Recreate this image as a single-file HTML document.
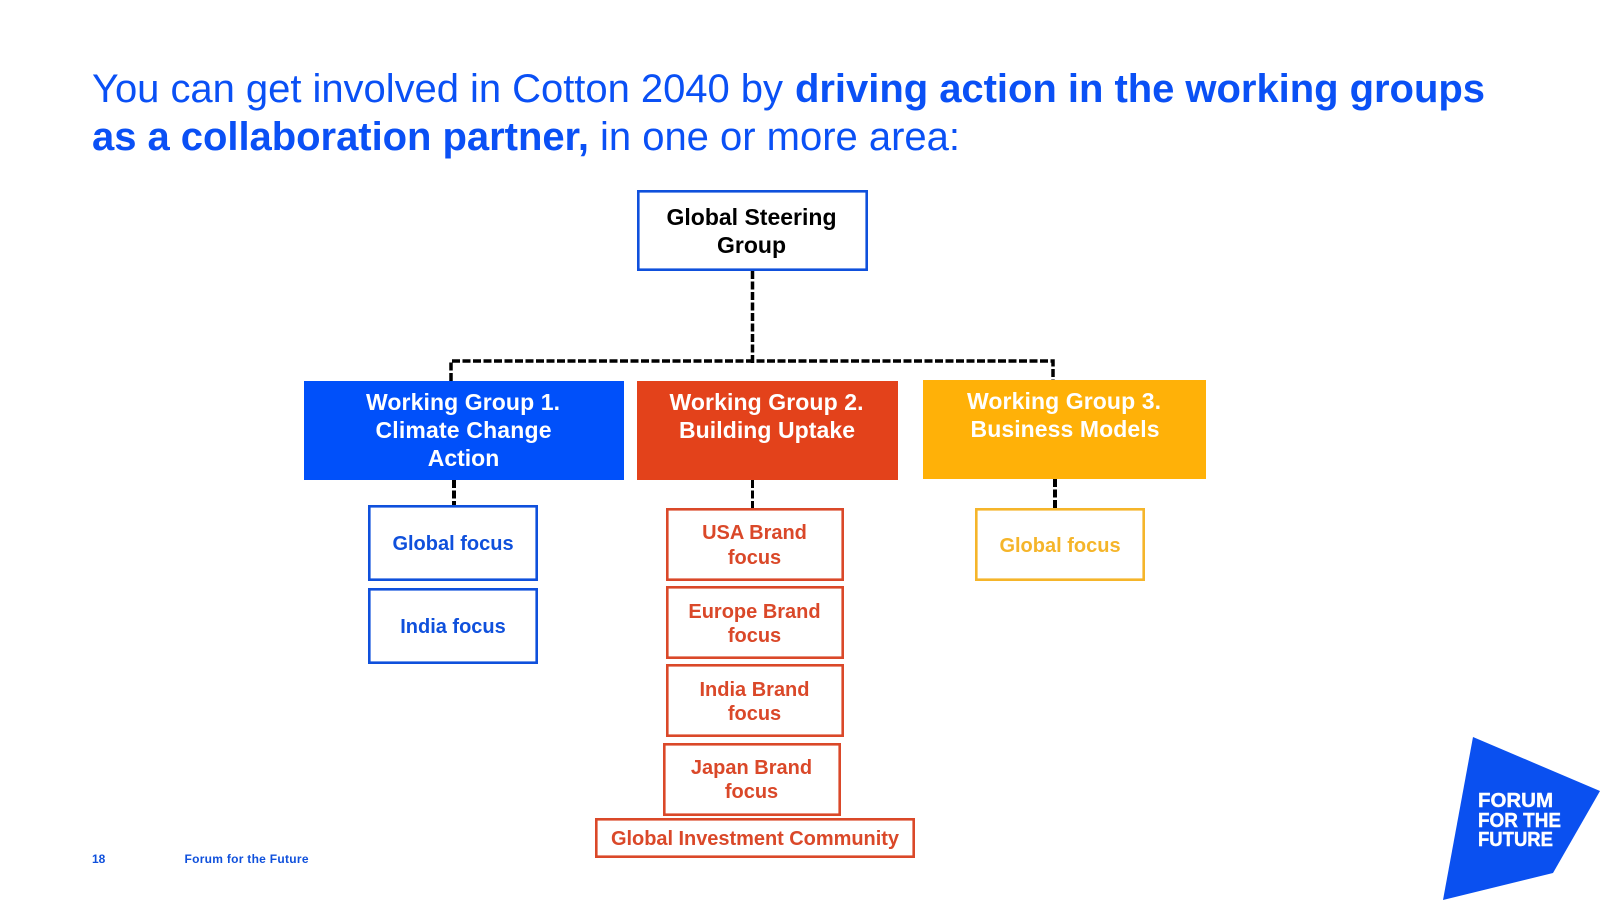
<!DOCTYPE html>
<html lang="en">
<head>
<meta charset="utf-8">
<title>Cotton 2040 working groups</title>
<style>
html,body{margin:0;padding:0;background:#fff;width:1600px;height:900px;overflow:hidden}
svg{display:block}
text{font-family:"Liberation Sans",Arial,sans-serif}
.b{font-weight:700}
.t{font-size:40px;fill:#0a50f5}
.m{text-anchor:middle;font-weight:700}
.l{font-size:23px}
.s{font-size:20px}
</style>
</head>
<body>
<svg width="1600" height="900" viewBox="0 0 1600 900" xmlns="http://www.w3.org/2000/svg">
<rect width="1600" height="900" fill="#fff"/>

<!-- Title -->
<text class="t" x="92" y="102" textLength="691" lengthAdjust="spacing">You can get involved in Cotton 2040 by</text>
<text class="t b" x="795" y="102" textLength="690" lengthAdjust="spacing">driving action in the working groups</text>
<text class="t b" x="92" y="150" textLength="497" lengthAdjust="spacing">as a collaboration partner,</text>
<text class="t" x="600" y="150" textLength="360" lengthAdjust="spacing">in one or more area:</text>

<!-- Connectors -->
<g fill="none" stroke="#000" stroke-width="3.5" stroke-dasharray="8 2.5">
<path d="M752.5 271V364"/>
<path d="M451 381V361H1053V381" stroke-linejoin="miter"/>
<path d="M454 480V505" stroke-width="4"/>
<path d="M752.5 480V508" stroke-width="3"/>
<path d="M1055 479V508" stroke-width="4"/>
</g>

<!-- Steering group -->
<rect x="638.3" y="191.3" width="228.4" height="78.4" fill="#fff" stroke="#0f50dc" stroke-width="2.6"/>
<text class="m l" x="751.5" y="225" fill="#000" textLength="170">Global Steering</text>
<text class="m l" x="751.5" y="253" fill="#000">Group</text>

<!-- Working groups -->
<rect x="304" y="381" width="320" height="99" fill="#0050fa"/>
<text class="m l" x="463" y="410" fill="#fff" textLength="194">Working Group 1.</text>
<text class="m l" x="463.5" y="438" fill="#fff" textLength="176">Climate Change</text>
<text class="m l" x="463.5" y="466" fill="#fff">Action</text>

<rect x="637" y="381" width="261" height="99" fill="#e3421b"/>
<text class="m l" x="766.5" y="410" fill="#fff" textLength="194">Working Group 2.</text>
<text class="m l" x="767" y="438" fill="#fff" textLength="176">Building Uptake</text>

<rect x="923" y="380" width="283" height="99" fill="#ffb108"/>
<text class="m l" x="1064" y="409" fill="#fff" textLength="194">Working Group 3.</text>
<text class="m l" x="1065" y="437" fill="#fff" textLength="189">Business Models</text>

<!-- Blue boxes -->
<g fill="#fff" stroke="#0f50dc" stroke-width="2.6">
<rect x="369.3" y="506.3" width="167.4" height="73.4"/>
<rect x="369.3" y="589.3" width="167.4" height="73.4"/>
</g>
<g fill="#0f50dc">
<text class="m s" x="453" y="550">Global focus</text>
<text class="m s" x="453" y="633">India focus</text>
</g>

<!-- Orange boxes -->
<g fill="#fff" stroke="#da4829" stroke-width="2.6">
<rect x="667.3" y="509.3" width="175.4" height="70.4"/>
<rect x="667.3" y="587.3" width="175.4" height="70.4"/>
<rect x="667.3" y="665.3" width="175.4" height="70.4"/>
<rect x="664.3" y="744.3" width="175.4" height="70.4"/>
<rect x="596.3" y="819.3" width="317.4" height="37.4"/>
</g>
<g fill="#da4829">
<text class="m s" x="754.5" y="539">USA Brand</text>
<text class="m s" x="754.5" y="564">focus</text>
<text class="m s" x="754.5" y="618">Europe Brand</text>
<text class="m s" x="754.5" y="642">focus</text>
<text class="m s" x="754.5" y="696">India Brand</text>
<text class="m s" x="754.5" y="720">focus</text>
<text class="m s" x="751.5" y="774">Japan Brand</text>
<text class="m s" x="751.5" y="798">focus</text>
<text class="m s" x="755" y="845" textLength="288">Global Investment Community</text>
</g>

<!-- Yellow box -->
<rect x="976.3" y="509.3" width="167.4" height="70.4" fill="#fff" stroke="#f5b52a" stroke-width="2.6"/>
<text class="m s" x="1060" y="552" fill="#f5b52a">Global focus</text>

<!-- Footer -->
<text class="b" x="92" y="863" font-size="12" fill="#0f50dc">18</text>
<text class="b" x="184.5" y="863" font-size="12" fill="#0f50dc" textLength="124">Forum for the Future</text>

<!-- Logo -->
<polygon points="1473,737 1600,791 1553,873 1443,900" fill="#0a50f0"/>
<g class="b" font-size="20" fill="#fff" stroke="#fff" stroke-width="0.4">
<text class="b" x="1478" y="807" textLength="75" lengthAdjust="spacingAndGlyphs">FORUM</text>
<text class="b" x="1478" y="827" textLength="83" lengthAdjust="spacingAndGlyphs">FOR THE</text>
<text class="b" x="1478" y="846" textLength="75" lengthAdjust="spacingAndGlyphs">FUTURE</text>
</g>
</svg>
</body>
</html>
